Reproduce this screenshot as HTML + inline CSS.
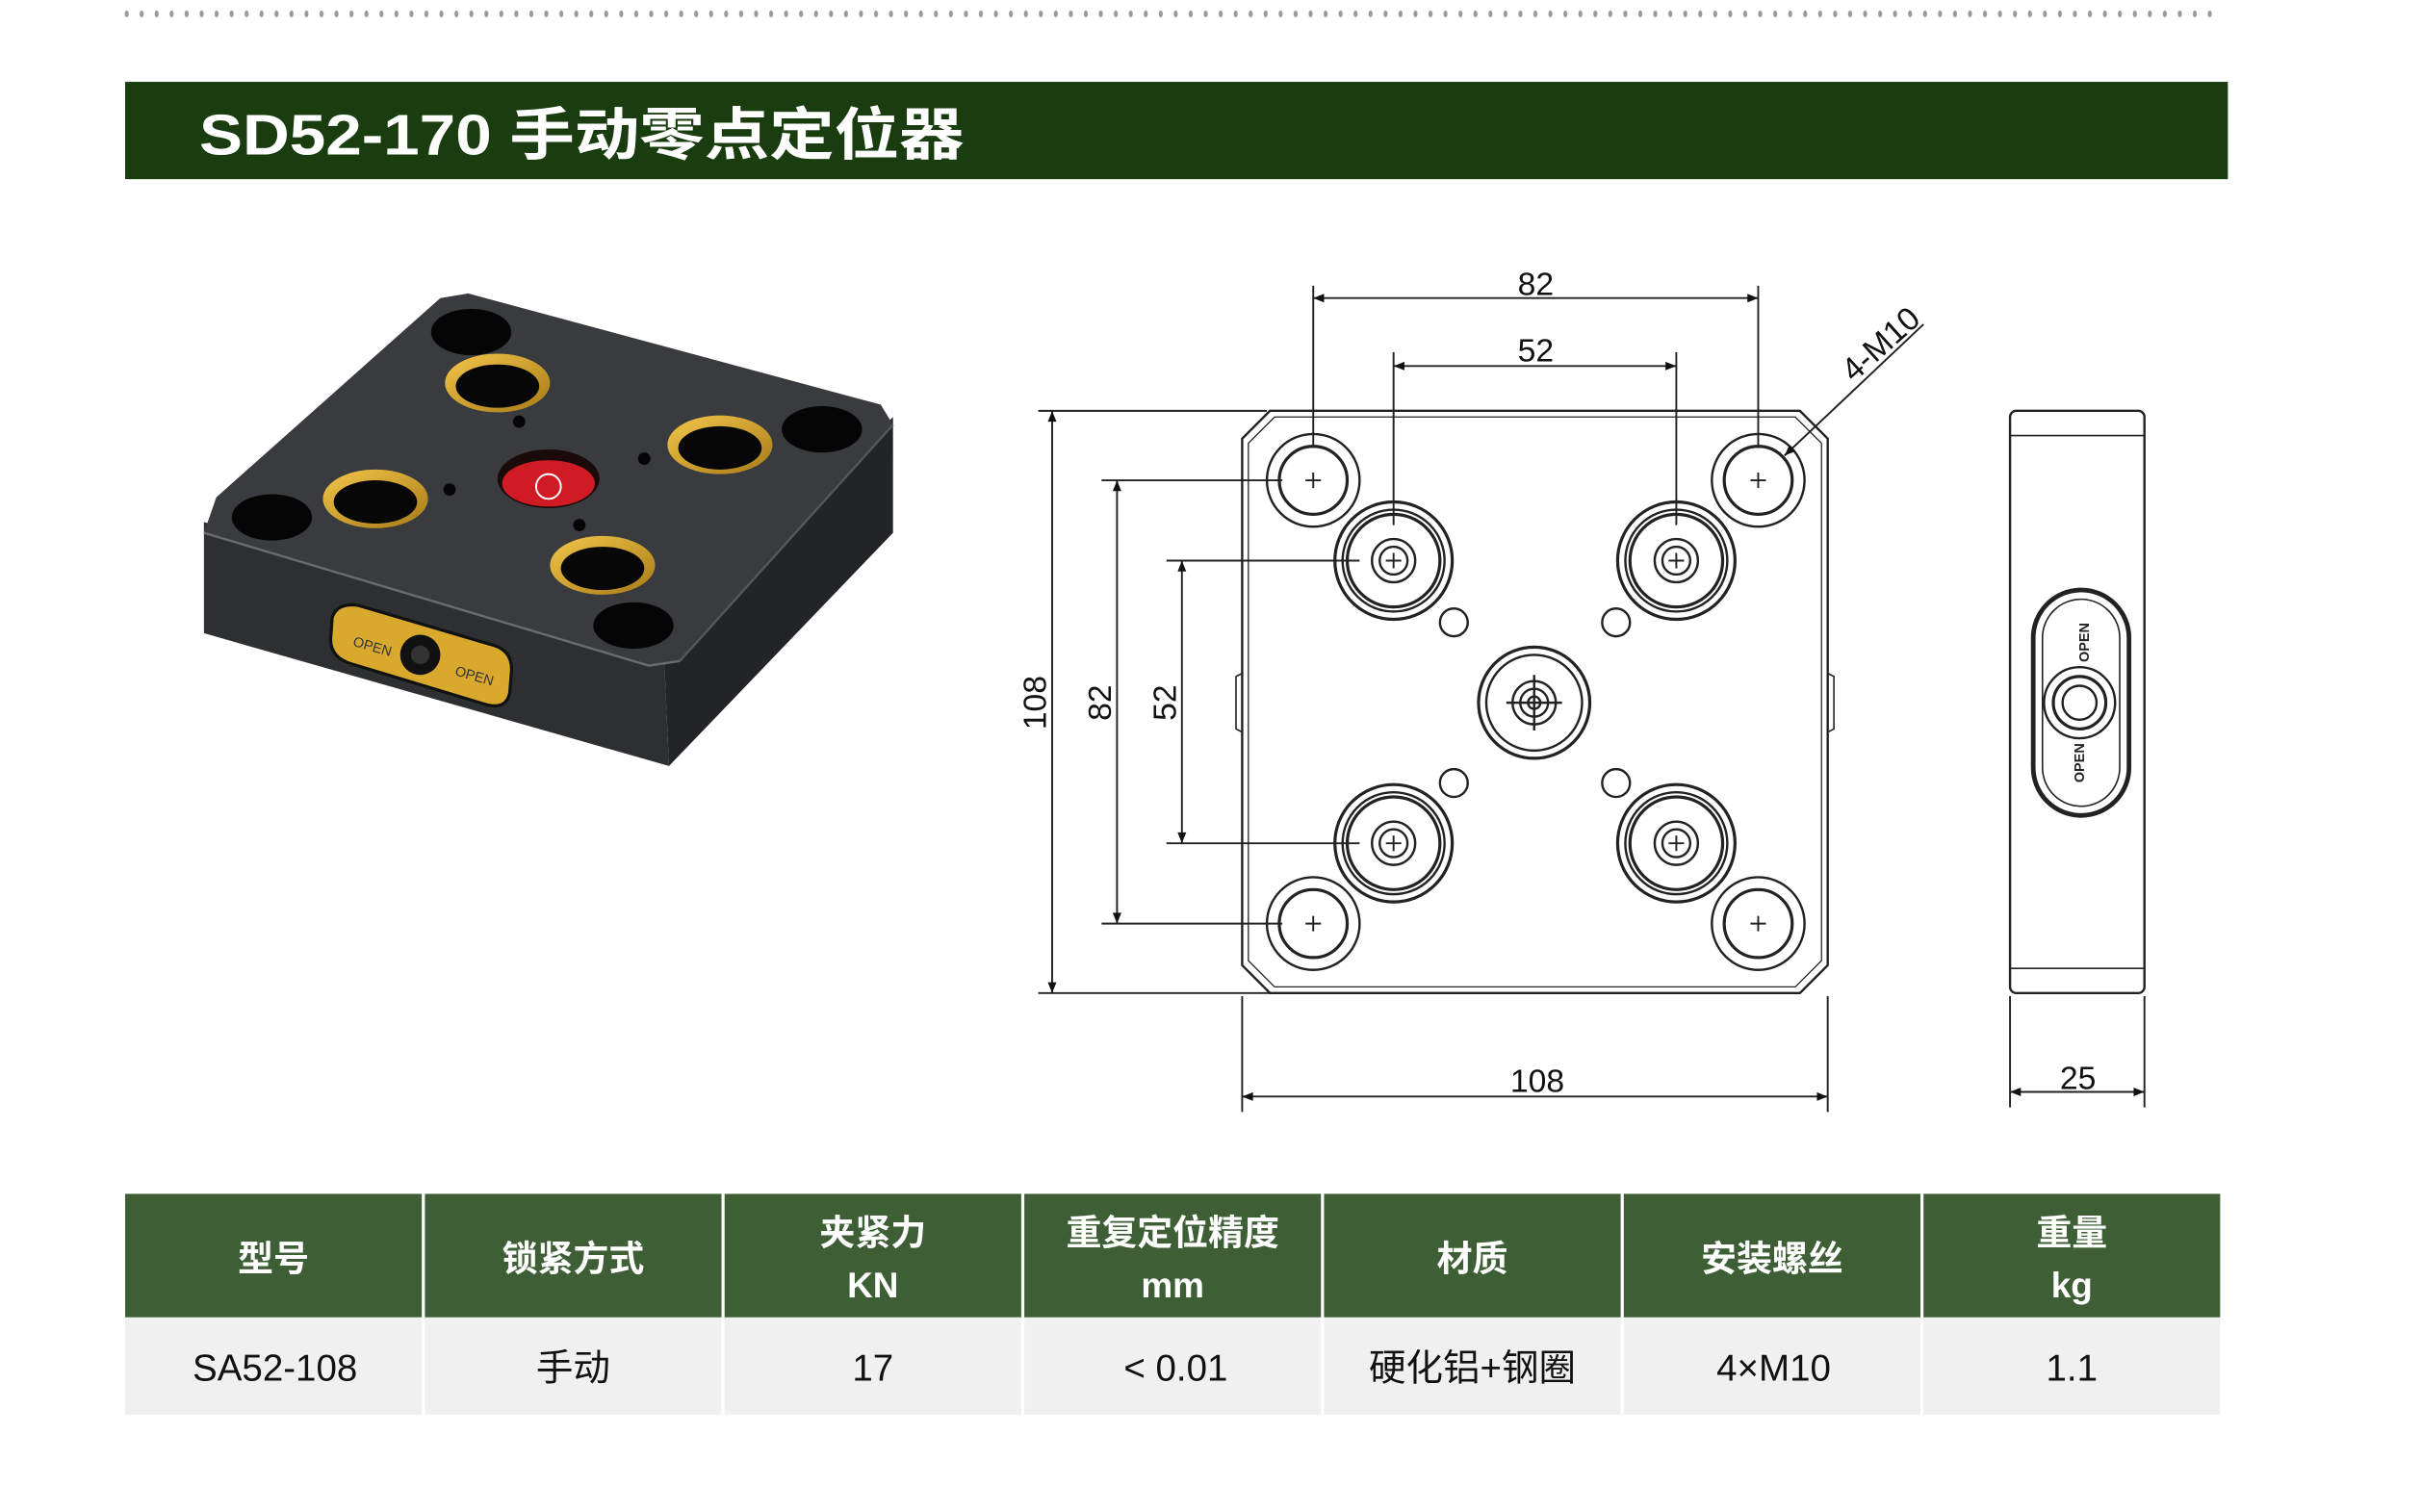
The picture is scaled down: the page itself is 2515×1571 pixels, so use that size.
<!DOCTYPE html>
<html><head><meta charset="utf-8"><style>
html,body{margin:0;padding:0;background:#fff;}
svg{display:block;}
</style></head><body>
<svg width="2515" height="1571" viewBox="0 0 1567 979" preserveAspectRatio="none" xmlns="http://www.w3.org/2000/svg">
<defs>
<pattern id="dots" x="80" y="0" width="9.7" height="20" patternUnits="userSpaceOnUse"><ellipse cx="2" cy="9" rx="1.3" ry="2.2" fill="#999"/></pattern>
<linearGradient id="gold" x1="0" y1="0" x2="1" y2="1"><stop offset="0" stop-color="#f3c64a"/><stop offset="1" stop-color="#a77a18"/></linearGradient>
<marker id="ar" viewBox="0 0 10 10" refX="10" refY="5" markerWidth="16" markerHeight="7" orient="auto-start-reverse" markerUnits="userSpaceOnUse"><path d="M0,1 L10,5 L0,9 Z" fill="#111"/></marker>
</defs>
<rect x="80" y="4" width="1358" height="10" fill="url(#dots)"/>
<rect x="81" y="53" width="1361" height="63" fill="#1a3d10"/>
<text x="129" y="100" font-family="Liberation Sans, Noto Sans CJK SC, sans-serif" font-weight="bold" font-size="37" fill="#fff" textLength="495" lengthAdjust="spacingAndGlyphs">SD52-170 手动零点定位器</text>

<g>
<polygon points="132,338 430,428 433,496 132,410" fill="#2e2f31"/>
<polygon points="430,428 578,270 578,345 433,496" fill="#232426"/>
<polygon points="140,322 285,193 303,190 570,262 578,275 440,428 420,431 132,345" fill="#3a3b3e"/>
<polyline points="132,345 420,431 440,428" fill="none" stroke="#6a6b6e" stroke-width="1.5"/>
<line x1="440" y1="428" x2="578" y2="275" stroke="#55565a" stroke-width="1.5"/>
<g fill="#050505">
<ellipse cx="305" cy="215" rx="26" ry="15"/><ellipse cx="532" cy="278" rx="26" ry="15"/>
<ellipse cx="176" cy="335" rx="26" ry="15"/><ellipse cx="410" cy="405" rx="26" ry="15"/>
<circle cx="336" cy="273" r="4"/><circle cx="417" cy="297" r="4"/><circle cx="291" cy="317" r="4"/><circle cx="375" cy="340" r="4"/>
</g>
<g fill="url(#gold)">
<ellipse cx="322" cy="248" rx="34" ry="19"/><ellipse cx="466" cy="288" rx="34" ry="19"/>
<ellipse cx="243" cy="323" rx="34" ry="19"/><ellipse cx="390" cy="366" rx="34" ry="19"/>
</g>
<g fill="#070707">
<ellipse cx="322" cy="250" rx="27" ry="14"/><ellipse cx="466" cy="290" rx="27" ry="14"/>
<ellipse cx="243" cy="325" rx="27" ry="14"/><ellipse cx="390" cy="368" rx="27" ry="14"/>
</g>
<ellipse cx="355" cy="310" rx="33" ry="19" fill="#1a0a0a"/>
<ellipse cx="355" cy="313" rx="30" ry="15" fill="#d01b25"/>
<circle cx="355" cy="315" r="8" fill="none" stroke="#fff" stroke-width="1.2"/>
<path d="M215,400 Q218,390 232,392 L320,418 Q332,422 331,435 L330,448 Q328,460 314,456 L228,430 Q214,426 214,414 Z" fill="#d9a92e" stroke="#111" stroke-width="2"/>
<circle cx="272" cy="424" r="13" fill="#111"/><circle cx="272" cy="424" r="6" fill="#333"/>
<text x="228" y="418" font-family="Liberation Sans, sans-serif" font-size="9" fill="#333" transform="rotate(16 228 418)">OPEN</text>
<text x="294" y="437" font-family="Liberation Sans, sans-serif" font-size="9" fill="#333" transform="rotate(16 294 437)">OPEN</text>
</g>

<g fill="none" stroke="#222" stroke-width="1.5">
<path d="M822,266 L1165,266 L1183,284 L1183,625 L1165,643 L822,643 L804,625 L804,284 Z"/>
<path d="M825,270 L1162,270 L1179,287 L1179,622 L1162,639 L825,639 L808,622 L808,287 Z" stroke-width="0.8"/>
<path d="M804,436 L800,438 L800,472 L804,474 M1183,436 L1187,438 L1187,472 L1183,474" stroke-width="1"/>
<g>
<circle cx="850" cy="311" r="30"/><circle cx="850" cy="311" r="22" stroke-width="2"/>
<circle cx="1138" cy="311" r="30"/><circle cx="1138" cy="311" r="22" stroke-width="2"/>
<circle cx="850" cy="598" r="30"/><circle cx="850" cy="598" r="22" stroke-width="2"/>
<circle cx="1138" cy="598" r="30"/><circle cx="1138" cy="598" r="22" stroke-width="2"/>
</g>
<path stroke-width="1.2" d="M845,311h10M850,306v10M845,598h10M850,593v10M1133,311h10M1138,306v10M1133,598h10M1138,593v10"/>
<g>
<circle cx="902" cy="363" r="38" stroke-width="2"/><circle cx="902" cy="363" r="33"/><circle cx="902" cy="363" r="30" stroke-width="2"/><circle cx="902" cy="363" r="14"/><circle cx="902" cy="363" r="9"/>
<circle cx="1085" cy="363" r="38" stroke-width="2"/><circle cx="1085" cy="363" r="33"/><circle cx="1085" cy="363" r="30" stroke-width="2"/><circle cx="1085" cy="363" r="14"/><circle cx="1085" cy="363" r="9"/>
<circle cx="902" cy="546" r="38" stroke-width="2"/><circle cx="902" cy="546" r="33"/><circle cx="902" cy="546" r="30" stroke-width="2"/><circle cx="902" cy="546" r="14"/><circle cx="902" cy="546" r="9"/>
<circle cx="1085" cy="546" r="38" stroke-width="2"/><circle cx="1085" cy="546" r="33"/><circle cx="1085" cy="546" r="30" stroke-width="2"/><circle cx="1085" cy="546" r="14"/><circle cx="1085" cy="546" r="9"/>
</g>
<path stroke-width="1.2" d="M897,363h10M902,358v10M1080,363h10M1085,358v10M897,546h10M902,541v10M1080,546h10M1085,541v10"/>
<circle cx="941" cy="403" r="9"/><circle cx="1046" cy="403" r="9"/><circle cx="941" cy="507" r="9"/><circle cx="1046" cy="507" r="9"/>
<circle cx="993" cy="455" r="36" stroke-width="2"/><circle cx="993" cy="455" r="31"/>
<circle cx="993" cy="455" r="14"/><circle cx="993" cy="455" r="9"/><circle cx="993" cy="455" r="4"/>
<path d="M975,455h36M993,437v36"/>

<path stroke-width="1.2" d="M850,185V290M1138,185V290M902,228V340M1085,228V340"/>
<line x1="850" y1="193" x2="1138" y2="193" marker-start="url(#ar)" marker-end="url(#ar)" stroke-width="1.2"/>
<line x1="902" y1="237" x2="1085" y2="237" marker-start="url(#ar)" marker-end="url(#ar)" stroke-width="1.2"/>
<line x1="1245" y1="210" x2="1155" y2="295" marker-end="url(#ar)" stroke-width="1.2"/>
<path stroke-width="1.2" d="M672,266H820M672,643H822M713,311H830M713,598H830M755,363H880M755,546H880"/>
<line x1="681" y1="266" x2="681" y2="643" marker-start="url(#ar)" marker-end="url(#ar)" stroke-width="1.2"/>
<line x1="723" y1="311" x2="723" y2="598" marker-start="url(#ar)" marker-end="url(#ar)" stroke-width="1.2"/>
<line x1="765" y1="363" x2="765" y2="546" marker-start="url(#ar)" marker-end="url(#ar)" stroke-width="1.2"/>
<path stroke-width="1.2" d="M804,645V720M1183,645V720M1301,645V717M1388,645V717"/>
<line x1="804" y1="710" x2="1183" y2="710" marker-start="url(#ar)" marker-end="url(#ar)" stroke-width="1.2"/>
<line x1="1301" y1="707" x2="1388" y2="707" marker-start="url(#ar)" marker-end="url(#ar)" stroke-width="1.2"/>

<rect x="1301" y="266" width="87" height="377" rx="4"/>
<path d="M1301,282H1388M1301,627H1388" stroke-width="1"/>
<rect x="1316" y="382" width="62" height="146" rx="31" stroke-width="3"/>
<rect x="1322" y="388" width="50" height="134" rx="25" stroke-width="1"/>
<circle cx="1346" cy="455" r="23"/><circle cx="1346" cy="455" r="17" stroke-width="2"/><circle cx="1346" cy="455" r="11"/>
</g>
<g font-family="Liberation Sans, sans-serif" font-size="21" fill="#111" text-anchor="middle">
<text x="994" y="191">82</text>
<text x="994" y="234">52</text>
<text x="995" y="707">108</text>
<text x="1345" y="705">25</text>
<text transform="translate(677,455) rotate(-90)">108</text>
<text transform="translate(719,455) rotate(-90)">82</text>
<text transform="translate(761,455) rotate(-90)">52</text>
<text transform="translate(1222,228) rotate(-42)">4-M10</text>
</g>
<g font-family="Liberation Sans, sans-serif" font-size="9" font-weight="bold" fill="#222" text-anchor="middle">
<text transform="translate(1352,416) rotate(-90)">OPEN</text>
<text transform="translate(1349,494) rotate(-90)">OPEN</text>
</g>

<rect x="81" y="773" width="1356" height="80" fill="#3e5f36"/>
<rect x="81" y="853" width="1356" height="63" fill="#f0f0f0"/>
<g stroke="#fff" stroke-width="2">
<path d="M274,773V916M468,773V916M662,773V916M856,773V916M1050,773V916M1244,773V916"/>
</g>
<g font-family="Liberation Sans, Noto Sans CJK SC, sans-serif" font-weight="bold" font-size="23" fill="#fff" text-anchor="middle">
<text x="177" y="823">型号</text>
<text x="371" y="823">锁紧方式</text>
<text x="565" y="806">夹紧力</text><text x="565" y="840">KN</text>
<text x="759" y="806">重复定位精度</text><text x="759" y="840">mm</text>
<text x="953" y="823">材质</text>
<text x="1147" y="823">安装螺丝</text>
<text x="1341" y="806">重量</text><text x="1341" y="840">kg</text>
</g>
<g font-family="Liberation Sans, Noto Sans CJK SC, sans-serif" font-size="24" fill="#111" text-anchor="middle">
<text x="178" y="894">SA52-108</text>
<text x="371" y="894">手动</text>
<text x="565" y="894">17</text>
<text x="761" y="894">&lt; 0.01</text>
<text x="953" y="894">硬化铝+钢圈</text>
<text x="1148" y="894">4×M10</text>
<text x="1341" y="894">1.1</text>
</g>
</svg>
</body></html>
